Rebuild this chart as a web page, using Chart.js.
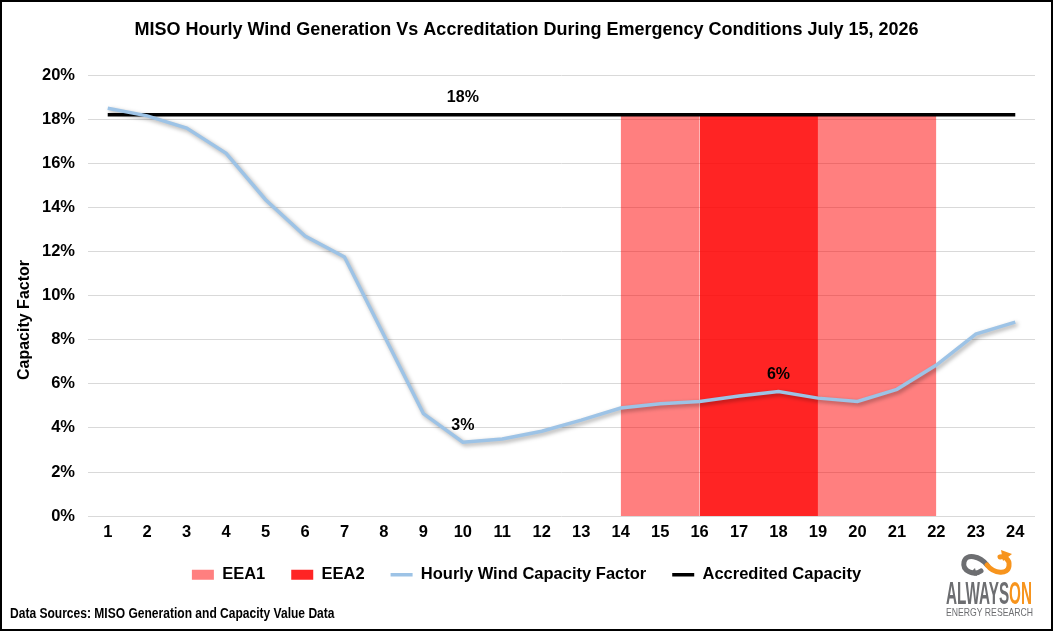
<!DOCTYPE html>
<html>
<head>
<meta charset="utf-8">
<title>MISO Hourly Wind Generation Vs Accreditation</title>
<script src="https://cdn.jsdelivr.net/npm/chart.js@4.4.1/dist/chart.umd.min.js"></script>
<style>
    html, body { margin: 0; padding: 0; background: #fff; }
    #frame {
        position: relative;
        width: 1049px;
        height: 627px;
        border: 2px solid #000;
        background: #fff;
        overflow: hidden;
    }
    #chart { position: absolute; left: 0; top: 0; }
    #source {
        position: absolute;
        left: 8px;
        top: 603px;
        font: bold 14px 'Liberation Sans Narrow', 'Liberation Sans', Arial, sans-serif;
        color: #000;
        white-space: nowrap;
        transform: scaleX(0.86);
        transform-origin: left center;
    }
    #logo { position: absolute; left: 938px; top: 543px; }
</style>
</head>
<body>
<div id="frame">
    <canvas id="chart" width="1049" height="627"></canvas>
    <div id="source">Data Sources: MISO Generation and Capacity Value Data</div>
    <svg id="logo" width="100" height="80" viewBox="0 0 100 80">
        <path d="M47,20 C40,11 26,8 24,17 C22,26 34,31 41,26" fill="none" stroke="#6d6e71" stroke-width="5" stroke-linecap="round"/>
        <path d="M37,31 L29,29 L35,23 Z" fill="#6d6e71"/>
        <path d="M47,20 C54,29 68,30 69,21 C70,14 64,11 60,12" fill="none" stroke="#f7941d" stroke-width="5" stroke-linecap="round"/>
        <path d="M61,5 L72,9 L63,16 Z" fill="#f7941d"/>
        <text x="6" y="59" font-family="'Liberation Sans Narrow', 'Liberation Sans', Arial, sans-serif" font-weight="bold" font-size="32" textLength="86" lengthAdjust="spacingAndGlyphs"><tspan fill="#6d6e71">ALWAYS</tspan><tspan fill="#f7941d">ON</tspan></text>
        <text x="6" y="71" font-family="'Liberation Sans Narrow', 'Liberation Sans', Arial, sans-serif" font-size="11" fill="#6d6e71" textLength="87" lengthAdjust="spacingAndGlyphs">ENERGY RESEARCH</text>
    </svg>
</div>

<script>
// ---- данные графика ----
const hours = ['1', '2', '3', '4', '5', '6', '7', '8', '9', '10', '11', '12',
               '13', '14', '15', '16', '17', '18', '19', '20', '21', '22', '23', '24'];

// почасовой КИУМ ветра, %
const windCF = [18.5, 18.15, 17.6, 16.45, 14.35, 12.7, 11.75, 8.2, 4.65, 3.35, 3.5, 3.85,
                4.35, 4.9, 5.1, 5.2, 5.45, 5.65, 5.35, 5.2, 5.75, 6.85, 8.25, 8.8];

// аккредитованная мощность, %
const accreditedLevel = 18.2;

// часы режимов EEA
const eea1Hours = [14, 15, 16, 19, 20, 21, 22];
const eea2Hours = [16, 17, 18, 19];

// подписи точек
const windLabelHours = [10, 18];
const accreditedLabelHour = 10;

const yTicksMax = 20;
const yTicksStep = 2;

const FONT = "'Liberation Sans', Arial, sans-serif";

// строим ряды из часов
const accredited = hours.map(() => accreditedLevel);
const eea1 = hours.map(h => eea1Hours.includes(+h) ? accreditedLevel : null);
const eea2 = hours.map(h => eea2Hours.includes(+h) ? accreditedLevel : null);

/**
 * Тень под линией ветра
 */
const shadowPlugin = {
    id: 'lineShadow',
    beforeDatasetDraw(chart, args) {
        if (args.index !== 2) return;
        const ctx = chart.ctx;
        ctx.save();
        ctx.shadowColor = 'rgba(0, 0, 0, 0.35)';
        ctx.shadowBlur = 4;
        ctx.shadowOffsetX = 2;
        ctx.shadowOffsetY = 2;
    },
    afterDatasetDraw(chart, args) {
        if (args.index !== 2) return;
        chart.ctx.restore();
    }
};

/**
 * Подписи значений и заголовок оси Y
 */
const labelsPlugin = {
    id: 'valueLabels',
    afterDatasetsDraw(chart) {
        const ctx = chart.ctx;
        const x = chart.scales.x;
        const y = chart.scales.y;

        ctx.save();
        ctx.fillStyle = '#000';
        ctx.font = 'bold 16px ' + FONT;
        ctx.textAlign = 'center';
        ctx.textBaseline = 'middle';

        windLabelHours.forEach(h => {
            const v = windCF[h - 1];
            ctx.fillText(Math.round(v) + '%', x.getPixelForValue(h - 1), y.getPixelForValue(v) - 17);
        });

        const i = accreditedLabelHour - 1;
        ctx.fillText(Math.round(accredited[i]) + '%', x.getPixelForValue(i), y.getPixelForValue(accredited[i]) - 17);

        // заголовок оси
        ctx.translate(23, 318);
        ctx.rotate(-Math.PI / 2);
        ctx.fillText('Capacity Factor', 0, 0);
        ctx.restore();
    }
};

new Chart(document.getElementById('chart'), {
    type: 'line',
    data: {
        labels: hours,
        datasets: [
            {
                label: 'EEA1',
                data: eea1,
                backgroundColor: 'rgba(255, 0, 0, 0.5)',
                borderColor: 'rgba(0, 0, 0, 0)',
                borderWidth: 0,
                pointRadius: 0,
                fill: 'origin',
                spanGaps: false,
                order: 4
            },
            {
                label: 'EEA2',
                data: eea2,
                backgroundColor: 'rgba(255, 0, 0, 0.86)',
                borderColor: 'rgba(0, 0, 0, 0)',
                borderWidth: 0,
                pointRadius: 0,
                fill: 'origin',
                order: 3
            },
            {
                label: 'Hourly Wind Capacity Factor',
                data: windCF,
                borderColor: '#9dc3e6',
                backgroundColor: '#9dc3e6',
                borderWidth: 3.5,
                pointRadius: 0,
                fill: false,
                order: 1
            },
            {
                label: 'Accredited Capacity',
                data: accredited,
                borderColor: '#000',
                backgroundColor: '#000',
                borderWidth: 3.5,
                pointRadius: 0,
                fill: false,
                order: 2
            }
        ]
    },
    options: {
        responsive: false,
        animation: false,
        layout: { padding: { left: 16, right: 16, top: 0, bottom: 36 } },
        scales: {
            x: {
                offset: true,
                grid: { display: false, drawTicks: false },
                border: { display: false },
                ticks: {
                    color: '#000',
                    font: { family: FONT, size: 16.5, weight: 'bold' },
                    padding: 6,
                    maxRotation: 0,
                    autoSkip: false
                },
                afterFit(scale) { scale.height = 24.4; }
            },
            y: {
                min: 0,
                max: yTicksMax,
                grid: { color: '#d9d9d9', lineWidth: 1, drawTicks: false },
                border: { display: false },
                ticks: {
                    stepSize: yTicksStep,
                    color: '#000',
                    font: { family: FONT, size: 16.5, weight: 'bold' },
                    padding: 13,
                    callback: v => v + '%'
                },
                afterFit(scale) { scale.width = 70; }
            }
        },
        plugins: {
            title: {
                display: true,
                text: 'MISO Hourly Wind Generation Vs Accreditation During Emergency Conditions July 15, 2026',
                color: '#000',
                font: { family: FONT, size: 18, weight: 'bold' },
                padding: { top: 17, bottom: 34.5 }
            },
            legend: {
                position: 'bottom',
                labels: {
                    color: '#000',
                    font: { family: FONT, size: 16.5, weight: 'bold' },
                    usePointStyle: true,
                    pointStyleWidth: 22,
                    boxHeight: 10,
                    padding: 26,
                    sort: (a, b) => a.datasetIndex - b.datasetIndex,
                    generateLabels(chart) {
                        return chart.data.datasets.map((ds, i) => {
                            const isArea = i < 2;
                            return {
                                text: ds.label,
                                datasetIndex: i,
                                fillStyle: isArea ? ds.backgroundColor : ds.borderColor,
                                strokeStyle: isArea ? ds.backgroundColor : ds.borderColor,
                                lineWidth: isArea ? 0 : 3.5,
                                pointStyle: isArea ? 'rect' : 'line',
                                fontColor: '#000',
                                hidden: false
                            };
                        });
                    }
                }
            },
            tooltip: { enabled: false }
        }
    },
    plugins: [shadowPlugin, labelsPlugin]
});
</script>
</body>
</html>
